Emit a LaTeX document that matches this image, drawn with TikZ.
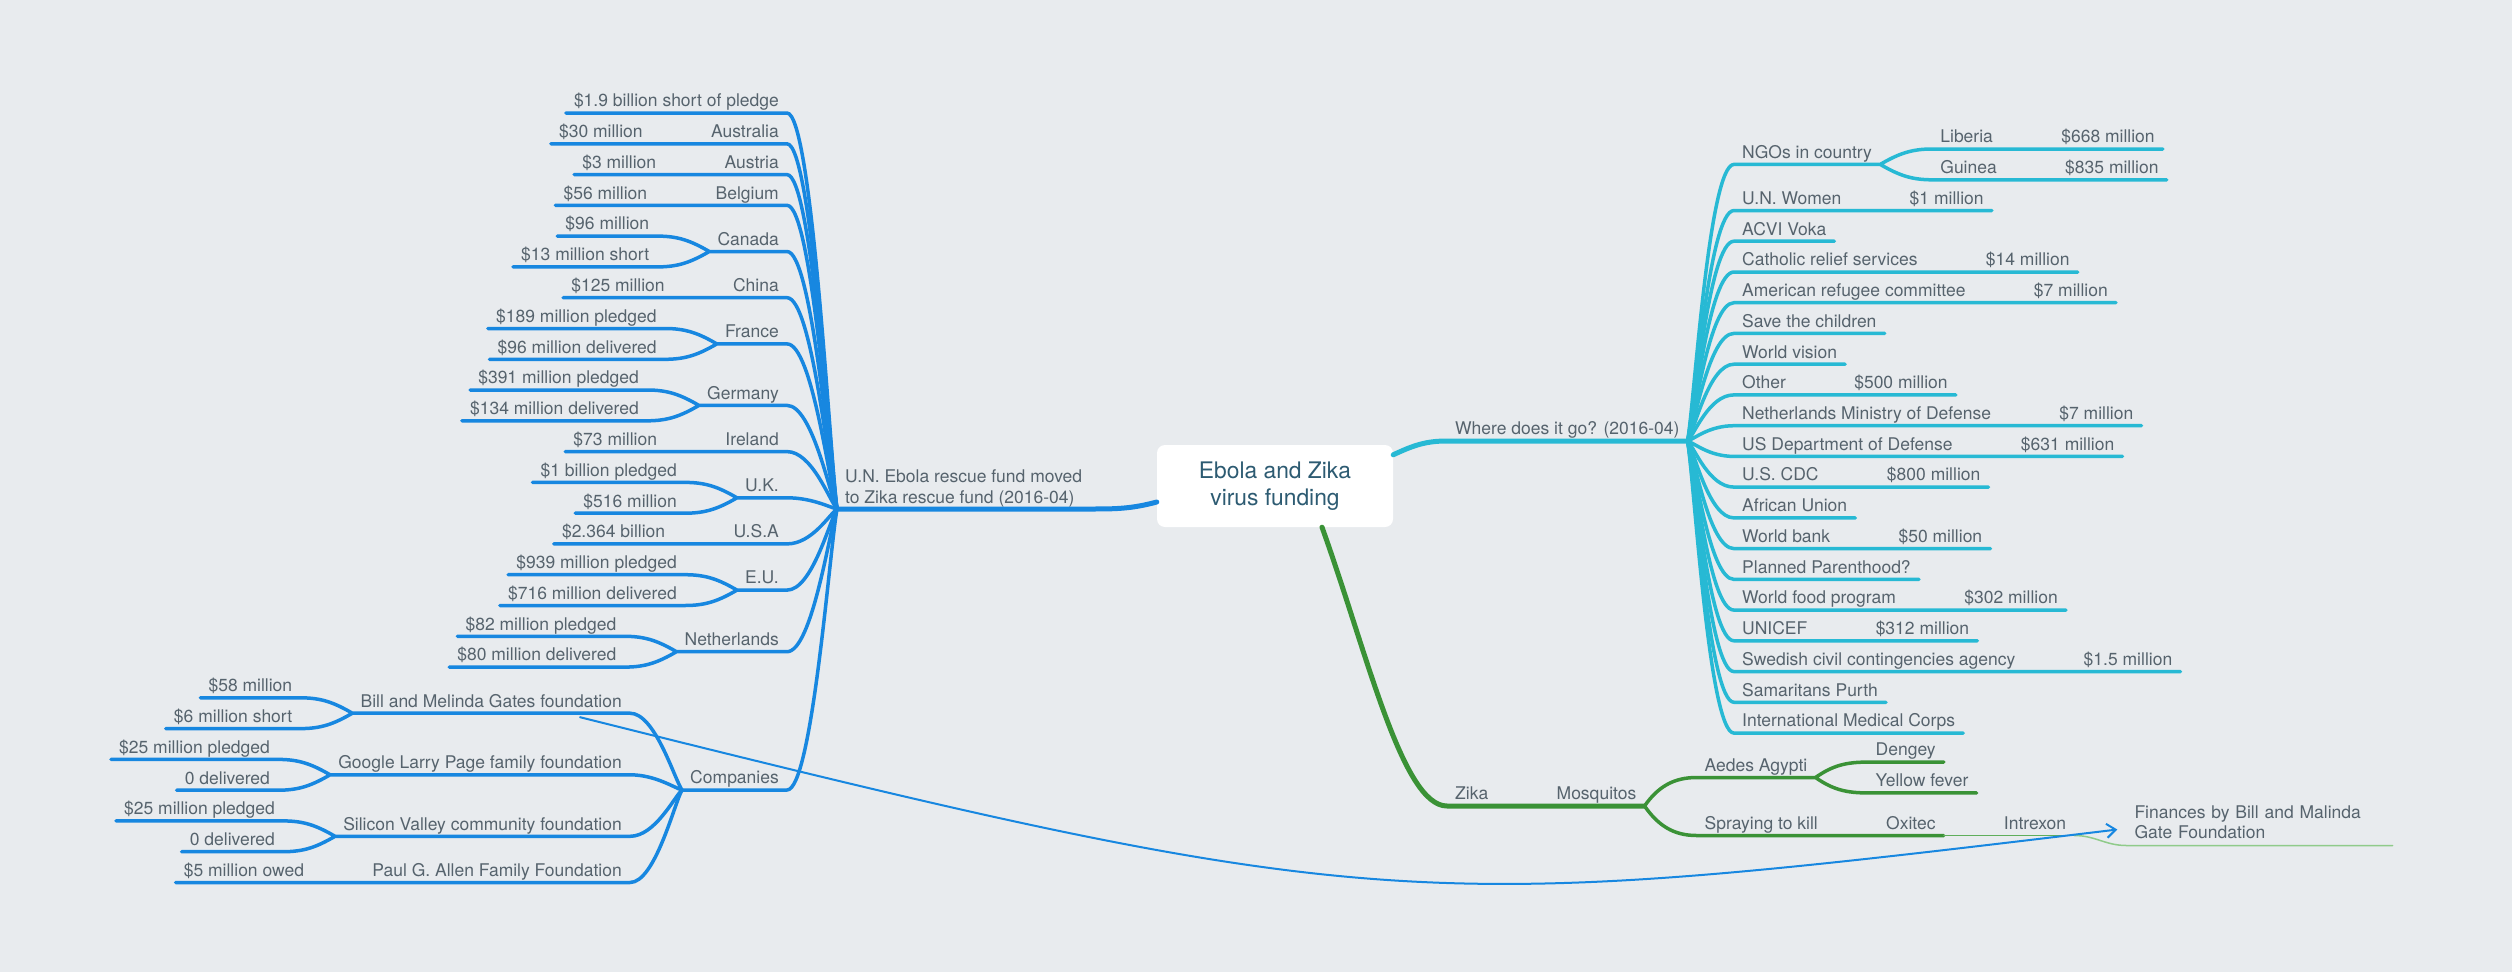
\documentclass[tikz,border=0pt]{standalone}
\usepackage{fontspec}
\setmainfont{TeX Gyre Heros}
\usepackage{tikz}
\usetikzlibrary{positioning,calc,arrows.meta}

\definecolor{bgc}{HTML}{E8EBEE}
\definecolor{txt}{HTML}{56636D}
\definecolor{ctxt}{HTML}{2D5B72}
\definecolor{ebl}{HTML}{1787E0}
\definecolor{ecy}{HTML}{27B9D4}
\definecolor{egr}{HTML}{3A9236}
\definecolor{egrm}{HTML}{5FAE5B}
\definecolor{egrl}{HTML}{8FCB8A}

\begin{document}
\begin{tikzpicture}[x=1pt,y=-1pt,line cap=round,line join=round,
  every node/.style={font=\fontsize{17.5}{21}\selectfont,text=txt,inner xsep=8pt,inner ysep=2pt,text height=12.5pt,text depth=4pt},
  le/.style={anchor=south east},
  ri/.style={anchor=south west},
  bl/.style={draw=ebl,line width=3.5pt},
  cy/.style={draw=ecy,line width=3.5pt},
  gr/.style={draw=egr,line width=3.5pt},
  rel/.style={draw=ebl,line width=2pt,-{Straight Barb[length=9pt,width=14pt]}},
  fanl/.style={to path={.. controls ($(\tikztostart)!0.15!(\tikztotarget)$) and +(25,0) .. (\tikztotarget)}},
  fanr/.style={to path={.. controls ($(\tikztostart)!0.15!(\tikztotarget)$) and +(-25,0) .. (\tikztotarget)}}]
\useasboundingbox (0,0) rectangle (2512,972);
\fill[bgc] (0,0) rectangle (2512,972);

%centre
\node[fill=white,rounded corners=8pt,minimum width=236pt,minimum height=82pt,inner sep=0pt,align=center,
  text=ctxt,font=\fontsize{22.8}{27}\selectfont,text height={},text depth={}] (c) at (1275,486) {Ebola and Zika\\virus funding};

%left nodes
\coordinate (hubl) at (837,509);
\node[ri,align=left,text height={},text depth={},font=\fontsize{17.5}{21}\selectfont] (unf) at (hubl) {U.N. Ebola rescue fund moved\\to Zika rescue fund (2016-04)};
\node[le] (pl) at (787,113.0) {\$1.9 billion short of pledge};
\node[le] (au) at (787,143.8) {Australia};
\node[le] (au1) at ([xshift=-52pt]au.south west) {\$30 million};
\node[le] (at) at (787,174.6) {Austria};
\node[le] (at1) at ([xshift=-52pt]at.south west) {\$3 million};
\node[le] (be) at (787,205.3) {Belgium};
\node[le] (be1) at ([xshift=-52pt]be.south west) {\$56 million};
\node[le] (ca) at (787,251.5) {Canada};
\node[le] (ca1) at ([xshift=-52pt,yshift=15.4pt]ca.south west) {\$96 million};
\node[le] (ca2) at ([xshift=-52pt,yshift=-15.4pt]ca.south west) {\$13 million short};
\node[le] (cn) at (787,297.7) {China};
\node[le] (cn1) at ([xshift=-52pt]cn.south west) {\$125 million};
\node[le] (fr) at (787,343.9) {France};
\node[le] (fr1) at ([xshift=-52pt,yshift=15.4pt]fr.south west) {\$189 million pledged};
\node[le] (fr2) at ([xshift=-52pt,yshift=-15.4pt]fr.south west) {\$96 million delivered};
\node[le] (de) at (787,405.4) {Germany};
\node[le] (de1) at ([xshift=-52pt,yshift=15.4pt]de.south west) {\$391 million pledged};
\node[le] (de2) at ([xshift=-52pt,yshift=-15.4pt]de.south west) {\$134 million delivered};
\node[le] (ie) at (787,451.6) {Ireland};
\node[le] (ie1) at ([xshift=-52pt]ie.south west) {\$73 million};
\node[le] (uk) at (787,497.8) {U.K.};
\node[le] (uk1) at ([xshift=-52pt,yshift=15.4pt]uk.south west) {\$1 billion pledged};
\node[le] (uk2) at ([xshift=-52pt,yshift=-15.4pt]uk.south west) {\$516 million};
\node[le] (us) at (787,543.9) {U.S.A};
\node[le] (us1) at ([xshift=-52pt]us.south west) {\$2.364 billion};
\node[le] (eu) at (787,590.1) {E.U.};
\node[le] (eu1) at ([xshift=-52pt,yshift=15.4pt]eu.south west) {\$939 million pledged};
\node[le] (eu2) at ([xshift=-52pt,yshift=-15.4pt]eu.south west) {\$716 million delivered};
\node[le] (nl) at (787,651.7) {Netherlands};
\node[le] (nl1) at ([xshift=-52pt,yshift=15.4pt]nl.south west) {\$82 million pledged};
\node[le] (nl2) at ([xshift=-52pt,yshift=-15.4pt]nl.south west) {\$80 million delivered};
\node[le] (co) at (787,790) {Companies};
\coordinate (coL) at ([xshift=-52pt]co.south west);
\node[le] (bg) at (coL |- 0,713.2) {Bill and Melinda Gates foundation};
\node[le] (bg1) at ([xshift=-52pt,yshift=15.4pt]bg.south west) {\$58 million};
\node[le] (bg2) at ([xshift=-52pt,yshift=-15.4pt]bg.south west) {\$6 million short};
\node[le] (gl) at (coL |- 0,774.8) {Google Larry Page family foundation};
\node[le] (gl1) at ([xshift=-52pt,yshift=15.4pt]gl.south west) {\$25 million pledged};
\node[le] (gl2) at ([xshift=-52pt,yshift=-15.4pt]gl.south west) {0 delivered};
\node[le] (sv) at (coL |- 0,836.3) {Silicon Valley community foundation};
\node[le] (sv1) at ([xshift=-52pt,yshift=15.4pt]sv.south west) {\$25 million pledged};
\node[le] (sv2) at ([xshift=-52pt,yshift=-15.4pt]sv.south west) {0 delivered};
\node[le] (pa) at (coL |- 0,882.5) {Paul G. Allen Family Foundation};
\node[le] (pa1) at ([xshift=-52pt]pa.south west) {\$5 million owed};

%right nodes
\node[ri] (wh) at (1447,441) {Where does it go? (2016-04)};
\coordinate (hubr) at (wh.south east);
\node[ri] (ng) at (1734,164.4) {NGOs in country};
\node[ri] (ng1) at ([xshift=52pt,yshift=15.4pt]ng.south east) {Liberia};
\node[ri] (ng2) at ([xshift=52pt,yshift=-15.4pt]ng.south east) {Guinea};
\node[ri] (ng11) at ([xshift=52pt]ng1.south east) {\$668 million};
\node[ri] (ng21) at ([xshift=52pt]ng2.south east) {\$835 million};
\node[ri] (uw) at (1734,210.5) {U.N. Women};
\node[ri] (uw1) at ([xshift=52pt]uw.south east) {\$1 million};
\node[ri] (av) at (1734,241.2) {ACVI Voka};
\node[ri] (cr) at (1734,272.0) {Catholic relief services};
\node[ri] (cr1) at ([xshift=52pt]cr.south east) {\$14 million};
\node[ri] (ar) at (1734,302.7) {American refugee committee};
\node[ri] (ar1) at ([xshift=52pt]ar.south east) {\$7 million};
\node[ri] (sc) at (1734,333.4) {Save the children};
\node[ri] (wv) at (1734,364.2) {World vision};
\node[ri] (ot) at (1734,394.9) {Other};
\node[ri] (ot1) at ([xshift=52pt]ot.south east) {\$500 million};
\node[ri] (nd) at (1734,425.7) {Netherlands Ministry of Defense};
\node[ri] (nd1) at ([xshift=52pt]nd.south east) {\$7 million};
\node[ri] (dd) at (1734,456.4) {US Department of Defense};
\node[ri] (dd1) at ([xshift=52pt]dd.south east) {\$631 million};
\node[ri] (cd) at (1734,487.1) {U.S. CDC};
\node[ri] (cd1) at ([xshift=52pt]cd.south east) {\$800 million};
\node[ri] (af) at (1734,517.9) {African Union};
\node[ri] (wb) at (1734,548.6) {World bank};
\node[ri] (wb1) at ([xshift=52pt]wb.south east) {\$50 million};
\node[ri] (pp) at (1734,579.4) {Planned Parenthood?};
\node[ri] (wf) at (1734,610.1) {World food program};
\node[ri] (wf1) at ([xshift=52pt]wf.south east) {\$302 million};
\node[ri] (uc) at (1734,640.8) {UNICEF};
\node[ri] (uc1) at ([xshift=52pt]uc.south east) {\$312 million};
\node[ri] (sw) at (1734,671.6) {Swedish civil contingencies agency};
\node[ri] (sw1) at ([xshift=52pt]sw.south east) {\$1.5 million};
\node[ri] (sa) at (1734,702.3) {Samaritans Purth};
\node[ri] (im) at (1734,733.1) {International Medical Corps};

%bottom nodes
\node[ri] (zk) at (1447,806) {Zika};
\node[ri] (mo) at ([xshift=52pt]zk.south east) {Mosquitos};
\node[ri] (ae) at ([xshift=52pt,yshift=28.5pt]mo.south east) {Aedes Agypti};
\node[ri] (dg) at ([xshift=52pt,yshift=15.4pt]ae.south east) {Dengey};
\node[ri] (yf) at ([xshift=52pt,yshift=-15.4pt]ae.south east) {Yellow fever};
\node[ri] (sk) at ([xshift=52pt,yshift=-29.5pt]mo.south east) {Spraying to kill};
\node[ri] (ox) at ([xshift=52pt]sk.south east) {Oxitec};
\node[ri] (ix) at ([xshift=52pt]ox.south east) {Intrexon};
\node[ri,text width=250pt,align=left,inner ysep=6pt,text height={},text depth={},font=\fontsize{17.5}{20.5}\selectfont] (fi) at ([xshift=52pt,yshift=-10pt]ix.south east) {Finances by Bill and Malinda\\Gate Foundation};

%edges left
\draw[bl,line width=5pt] (unf.south west) -- (unf.south east) to[out=0,in=195] ([yshift=-16pt]c.west);
\draw[bl] (hubl) to[fanl] (pl.south east) -- (pl.south west);
\draw[bl] (hubl) to[fanl] (au.south east) -- (au.south west) -- (au1.south east) -- (au1.south west);
\draw[bl] (hubl) to[fanl] (at.south east) -- (at.south west) -- (at1.south east) -- (at1.south west);
\draw[bl] (hubl) to[fanl] (be.south east) -- (be.south west) -- (be1.south east) -- (be1.south west);
\draw[bl] (hubl) to[fanl] (ca.south east) -- (ca.south west) to[out=150,in=0] (ca1.south east) -- (ca1.south west)
  (ca.south west) to[out=210,in=0] (ca2.south east) -- (ca2.south west);
\draw[bl] (hubl) to[fanl] (cn.south east) -- (cn.south west) -- (cn1.south east) -- (cn1.south west);
\draw[bl] (hubl) to[fanl] (fr.south east) -- (fr.south west) to[out=150,in=0] (fr1.south east) -- (fr1.south west)
  (fr.south west) to[out=210,in=0] (fr2.south east) -- (fr2.south west);
\draw[bl] (hubl) to[fanl] (de.south east) -- (de.south west) to[out=150,in=0] (de1.south east) -- (de1.south west)
  (de.south west) to[out=210,in=0] (de2.south east) -- (de2.south west);
\draw[bl] (hubl) to[fanl] (ie.south east) -- (ie.south west) -- (ie1.south east) -- (ie1.south west);
\draw[bl] (hubl) to[fanl] (uk.south east) -- (uk.south west) to[out=150,in=0] (uk1.south east) -- (uk1.south west)
  (uk.south west) to[out=210,in=0] (uk2.south east) -- (uk2.south west);
\draw[bl] (hubl) to[fanl] (us.south east) -- (us.south west) -- (us1.south east) -- (us1.south west);
\draw[bl] (hubl) to[fanl] (eu.south east) -- (eu.south west) to[out=150,in=0] (eu1.south east) -- (eu1.south west)
  (eu.south west) to[out=210,in=0] (eu2.south east) -- (eu2.south west);
\draw[bl] (hubl) to[fanl] (nl.south east) -- (nl.south west) to[out=150,in=0] (nl1.south east) -- (nl1.south west)
  (nl.south west) to[out=210,in=0] (nl2.south east) -- (nl2.south west);
\draw[bl] (hubl) to[fanl] (co.south east) -- (co.south west);
\draw[bl] (co.south west) to[fanl] (bg.south east) -- (bg.south west) to[out=150,in=0] (bg1.south east) -- (bg1.south west)
  (bg.south west) to[out=210,in=0] (bg2.south east) -- (bg2.south west);
\draw[bl] (co.south west) to[fanl] (gl.south east) -- (gl.south west) to[out=150,in=0] (gl1.south east) -- (gl1.south west)
  (gl.south west) to[out=210,in=0] (gl2.south east) -- (gl2.south west);
\draw[bl] (co.south west) to[fanl] (sv.south east) -- (sv.south west) to[out=150,in=0] (sv1.south east) -- (sv1.south west)
  (sv.south west) to[out=210,in=0] (sv2.south east) -- (sv2.south west);
\draw[bl] (co.south west) to[fanl] (pa.south east) -- (pa.south west) -- (pa1.south east) -- (pa1.south west);

%edges right
\draw[cy,line width=5pt] ([yshift=-10pt]c.north east) to[out=25,in=180] (wh.south west) -- (wh.south east);
\draw[cy] (hubr) to[fanr] (ng.south west) -- (ng.south east) to[out=30,in=180] (ng1.south west) -- (ng1.south east) -- (ng11.south west) -- (ng11.south east)
  (ng.south east) to[out=-30,in=180] (ng2.south west) -- (ng2.south east) -- (ng21.south west) -- (ng21.south east);
\draw[cy] (hubr) to[fanr] (uw.south west) -- (uw.south east) -- (uw1.south west) -- (uw1.south east);
\draw[cy] (hubr) to[fanr] (av.south west) -- (av.south east);
\draw[cy] (hubr) to[fanr] (cr.south west) -- (cr.south east) -- (cr1.south west) -- (cr1.south east);
\draw[cy] (hubr) to[fanr] (ar.south west) -- (ar.south east) -- (ar1.south west) -- (ar1.south east);
\draw[cy] (hubr) to[fanr] (sc.south west) -- (sc.south east);
\draw[cy] (hubr) to[fanr] (wv.south west) -- (wv.south east);
\draw[cy] (hubr) to[fanr] (ot.south west) -- (ot.south east) -- (ot1.south west) -- (ot1.south east);
\draw[cy] (hubr) to[fanr] (nd.south west) -- (nd.south east) -- (nd1.south west) -- (nd1.south east);
\draw[cy] (hubr) to[fanr] (dd.south west) -- (dd.south east) -- (dd1.south west) -- (dd1.south east);
\draw[cy] (hubr) to[fanr] (cd.south west) -- (cd.south east) -- (cd1.south west) -- (cd1.south east);
\draw[cy] (hubr) to[fanr] (af.south west) -- (af.south east);
\draw[cy] (hubr) to[fanr] (wb.south west) -- (wb.south east) -- (wb1.south west) -- (wb1.south east);
\draw[cy] (hubr) to[fanr] (pp.south west) -- (pp.south east);
\draw[cy] (hubr) to[fanr] (wf.south west) -- (wf.south east) -- (wf1.south west) -- (wf1.south east);
\draw[cy] (hubr) to[fanr] (uc.south west) -- (uc.south east) -- (uc1.south west) -- (uc1.south east);
\draw[cy] (hubr) to[fanr] (sw.south west) -- (sw.south east) -- (sw1.south west) -- (sw1.south east);
\draw[cy] (hubr) to[fanr] (sa.south west) -- (sa.south east);
\draw[cy] (hubr) to[fanr] (im.south west) -- (im.south east);

%edges bottom
\draw[gr,line width=5pt] ([xshift=47pt]c.south) .. controls +(45,125) and +(-45,0) .. (zk.south west) -- (zk.south east) -- (mo.south west) -- (mo.south east);
\draw[gr] (mo.south east) to[out=55,in=180] (ae.south west) -- (ae.south east) to[out=35,in=180] (dg.south west) -- (dg.south east)
  (ae.south east) to[out=-35,in=180] (yf.south west) -- (yf.south east);
\draw[gr] (mo.south east) to[out=-55,in=180] (sk.south west) -- (sk.south east) -- (ox.south west) -- (ox.south east);
\draw[draw=egrm,line width=1.5pt] (ox.south east) -- (ix.south west) -- (ix.south east);
\draw[draw=egrl,line width=1.5pt] (ix.south east) to[out=0,in=180] (fi.south west) -- (fi.south east);

%relationship
\coordinate (relfrom) at ([xshift=-50pt,yshift=-4pt]bg.south east);
\coordinate (relto) at ([xshift=-9pt,yshift=-7pt]fi.west);
\draw[rel] (relfrom) .. controls +(800,200) and +(-700,84) .. (relto);
\end{tikzpicture}
\end{document}
